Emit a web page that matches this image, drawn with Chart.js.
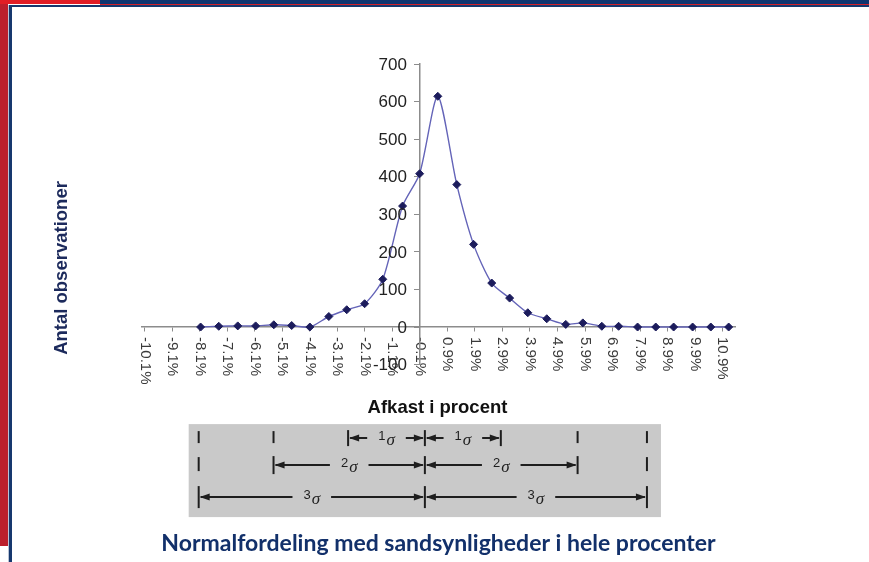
<!DOCTYPE html>
<html><head><meta charset="utf-8">
<script src="https://cdn.jsdelivr.net/npm/chart.js@4.4.1/dist/chart.umd.min.js"></script>
<style>
html,body{margin:0;padding:0;background:#fff;}
#wrap{position:relative;width:869px;height:562px;overflow:hidden;background:#fff;}
.f{position:absolute;}
canvas{position:absolute;left:0;top:0;}
</style></head><body>
<div id="wrap">
<div class="f" style="left:0;top:0;width:8px;height:546px;background:#bb1f2c"></div>
<div class="f" style="left:0;top:0;width:100px;height:4px;background:#e11d25"></div>
<div class="f" style="left:100px;top:0;width:769px;height:4px;background:#0f3570"></div>
<div class="f" style="left:100px;top:4px;width:769px;height:1px;background:#d3202a"></div>
<div class="f" style="left:9px;top:5px;width:860px;height:2px;background:#16386e"></div>
<div class="f" style="left:8px;top:5px;width:1px;height:557px;background:#b9c3d6"></div>
<div class="f" style="left:9px;top:5px;width:3px;height:557px;background:#16386e"></div>
<canvas id="c" width="869" height="562"></canvas>
</div>
<script>
// ---- data ----
const tickLabels = ["-10.1%","-9.1%","-8.1%","-7.1%","-6.1%","-5.1%","-4.1%","-3.1%","-2.1%","-1.1%","-0.1%",
                    "0.9%","1.9%","2.9%","3.9%","4.9%","5.9%","6.9%","7.9%","8.9%","9.9%","10.9%"];
const tickValues = tickLabels.map(s => parseFloat(s));
const yTickValues = [-100, 0, 100, 200, 300, 400, 500, 600, 700];
const returnPct = [-8.07,-7.41,-6.72,-6.07,-5.41,-4.76,-4.10,-3.41,-2.76,-2.11,-1.45,-0.73,-0.11,0.55,
                   1.24,1.85,2.51,3.16,3.82,4.51,5.20,5.82,6.51,7.12,7.81,8.47,9.12,9.81,10.47,11.12];
const observations = [0,2,3,3,6,4,0,28,46,62,127,322,408,614,
                      379,220,117,77,38,22,7,11,2,2,0,0,0,0,0,0];
const sigmaMarks = [-8.14,-5.42,-2.71,0.08,2.84,5.63,8.15];
const sigmaDigits = ["1","2","3"];
const yAxisTitle = "Antal observationer";
const xAxisTitle = "Afkast i procent";
const chartTitle = "Normalfordeling med sandsynligheder i hele procenter";

Chart.defaults.font.family = '"Liberation Sans", Arial, sans-serif';

const overlay = {
  id: 'overlay',
  beforeDraw(chart) {
    const {ctx, scales: {x, y}} = chart;
    ctx.save();
    ctx.fillStyle = '#3a3a3a';
    ctx.font = '15px "Liberation Sans", Arial, sans-serif';
    ctx.textAlign = 'left';
    ctx.textBaseline = 'middle';
    const y0 = y.getPixelForValue(0) + 10;
    tickValues.forEach((v, i) => {
      ctx.save();
      ctx.translate(x.getPixelForValue(v), y0);
      ctx.rotate(Math.PI / 2);
      ctx.fillText(tickLabels[i], 0, 0);
      ctx.restore();
    });
    ctx.restore();
  },
  afterDraw(chart) {
    const {ctx, chartArea, scales: {x, y}} = chart;
    ctx.save();
    // y tick labels (left of the axis line)
    const ax = x.getPixelForValue(-0.1);
    ctx.fillStyle = '#222';
    ctx.font = '17px "Liberation Sans", Arial, sans-serif';
    ctx.textAlign = 'right';
    ctx.textBaseline = 'middle';
    yTickValues.forEach(v => ctx.fillText(String(v), ax - 13, y.getPixelForValue(v) + 1));

    // y axis title
    ctx.fillStyle = '#1c2a5c';
    ctx.font = 'bold 18.5px "Liberation Sans", Arial, sans-serif';
    ctx.textAlign = 'center';
    ctx.save();
    ctx.translate(62, 268);
    ctx.rotate(-Math.PI / 2);
    ctx.fillText(yAxisTitle, 0, 0);
    ctx.restore();
    // x axis title
    ctx.fillStyle = '#111';
    ctx.fillText(xAxisTitle, (chartArea.left + chartArea.right) / 2 - 1, chartArea.bottom + 43);

    // sigma box
    const px = sigmaMarks.map(v => x.getPixelForValue(v));
    const top = chartArea.bottom + 59.5;
    const bx0 = px[0] - 10, bx1 = px[6] + 14;
    ctx.fillStyle = '#c9c9c9';
    ctx.fillRect(bx0, top, bx1 - bx0, 93);
    const rows = [top + 14, top + 41, top + 73];
    const barH = [8, 9, 11];
    ctx.strokeStyle = '#1e1e1e';
    ctx.fillStyle = '#1e1e1e';
    ctx.lineWidth = 2;
    function vbar(xx, yy, h) {
      ctx.beginPath(); ctx.moveTo(xx, yy - h); ctx.lineTo(xx, yy + h); ctx.stroke();
    }
    function tri(xx, yy, dir) {
      ctx.beginPath();
      ctx.moveTo(xx, yy);
      ctx.lineTo(xx + dir * 10, yy - 3.5);
      ctx.lineTo(xx + dir * 10, yy + 3.5);
      ctx.closePath(); ctx.fill();
    }
    function label(d, cx, yy) {
      ctx.font = '13px "Liberation Sans", Arial, sans-serif';
      const wd = ctx.measureText(d).width;
      ctx.font = 'italic 17px "Liberation Serif", "Times New Roman", serif';
      const ws = ctx.measureText('σ').width;
      const tw = wd + 1 + ws;
      ctx.textAlign = 'left';
      ctx.textBaseline = 'middle';
      ctx.font = '13px "Liberation Sans", Arial, sans-serif';
      ctx.fillText(d, cx - tw / 2, yy - 2);
      ctx.font = 'italic 17px "Liberation Serif", "Times New Roman", serif';
      ctx.fillText('σ', cx - tw / 2 + wd + 1, yy + 2);
      return tw;
    }
    function span(a, b, yy, d) {
      const mid = (a + b) / 2;
      const tw = label(d, mid, yy);
      const gap = 11;
      const l1 = mid - tw / 2 - gap, r1 = mid + tw / 2 + gap;
      ctx.beginPath();
      ctx.moveTo(a + 2, yy); ctx.lineTo(Math.max(a + 8, l1), yy);
      ctx.moveTo(Math.min(b - 8, r1), yy); ctx.lineTo(b - 2, yy);
      ctx.stroke();
      tri(a + 1, yy, 1);
      tri(b - 1, yy, -1);
    }
    for (let k = 1; k <= 3; k++) {
      const yy = rows[k - 1];
      const h = barH[k - 1];
      for (let j = 0; j < 7; j++) {
        const dist = Math.abs(j - 3);
        if (dist === k || dist === 0) vbar(px[j], yy, h);
        else if (dist > k) vbar(px[j], yy - 1, h - 2);
      }
      span(px[3 - k], px[3], yy, sigmaDigits[k - 1]);
      span(px[3], px[3 + k], yy, sigmaDigits[k - 1]);
    }
    ctx.restore();
  }
};

new Chart(document.getElementById('c'), {
  type: 'scatter',
  data: {
    datasets: [{
      data: returnPct.map((v, i) => ({x: v, y: observations[i]})),
      showLine: true,
      tension: 0.25,
      borderColor: '#6464b8',
      borderWidth: 1.4,
      pointStyle: 'rectRot',
      pointRadius: 4,
      pointBackgroundColor: '#1c1c5c',
      pointBorderColor: '#1c1c5c',
      pointBorderWidth: 1
    }]
  },
  options: {
    responsive: false,
    animation: false,
    layout: {padding: {left: 142, right: 134, top: 64, bottom: 0}},
    plugins: {
      legend: {display: false},
      tooltip: {enabled: false},
      title: {
        display: true,
        text: chartTitle,
        position: 'bottom',
        color: '#12306a',
        font: {family: 'Lato, "Open Sans", sans-serif', weight: 'bold', size: 23},
        padding: {top: 165.4, bottom: 4.4}
      }
    },
    scales: {
      x: {
        type: 'linear',
        position: {y: 0},
        min: -10.2,
        max: 11.35,
        afterBuildTicks: s => { s.ticks = tickValues.map(v => ({value: v})); },
        ticks: {display: false},
        grid: {display: true, drawOnChartArea: false, drawTicks: true, tickLength: 4, color: '#8c8c8c'},
        border: {display: true, color: '#8c8c8c', width: 1.5}
      },
      y: {
        type: 'linear',
        position: {x: -0.1},
        min: -100,
        max: 700,
        afterBuildTicks: s => { s.ticks = yTickValues.map(v => ({value: v})); },
        ticks: {display: false},
        grid: {display: true, drawOnChartArea: false, drawTicks: true, tickLength: 5, color: '#8c8c8c'},
        border: {display: true, color: '#8c8c8c', width: 1.5}
      }
    }
  },
  plugins: [overlay]
});
</script>
</body></html>
